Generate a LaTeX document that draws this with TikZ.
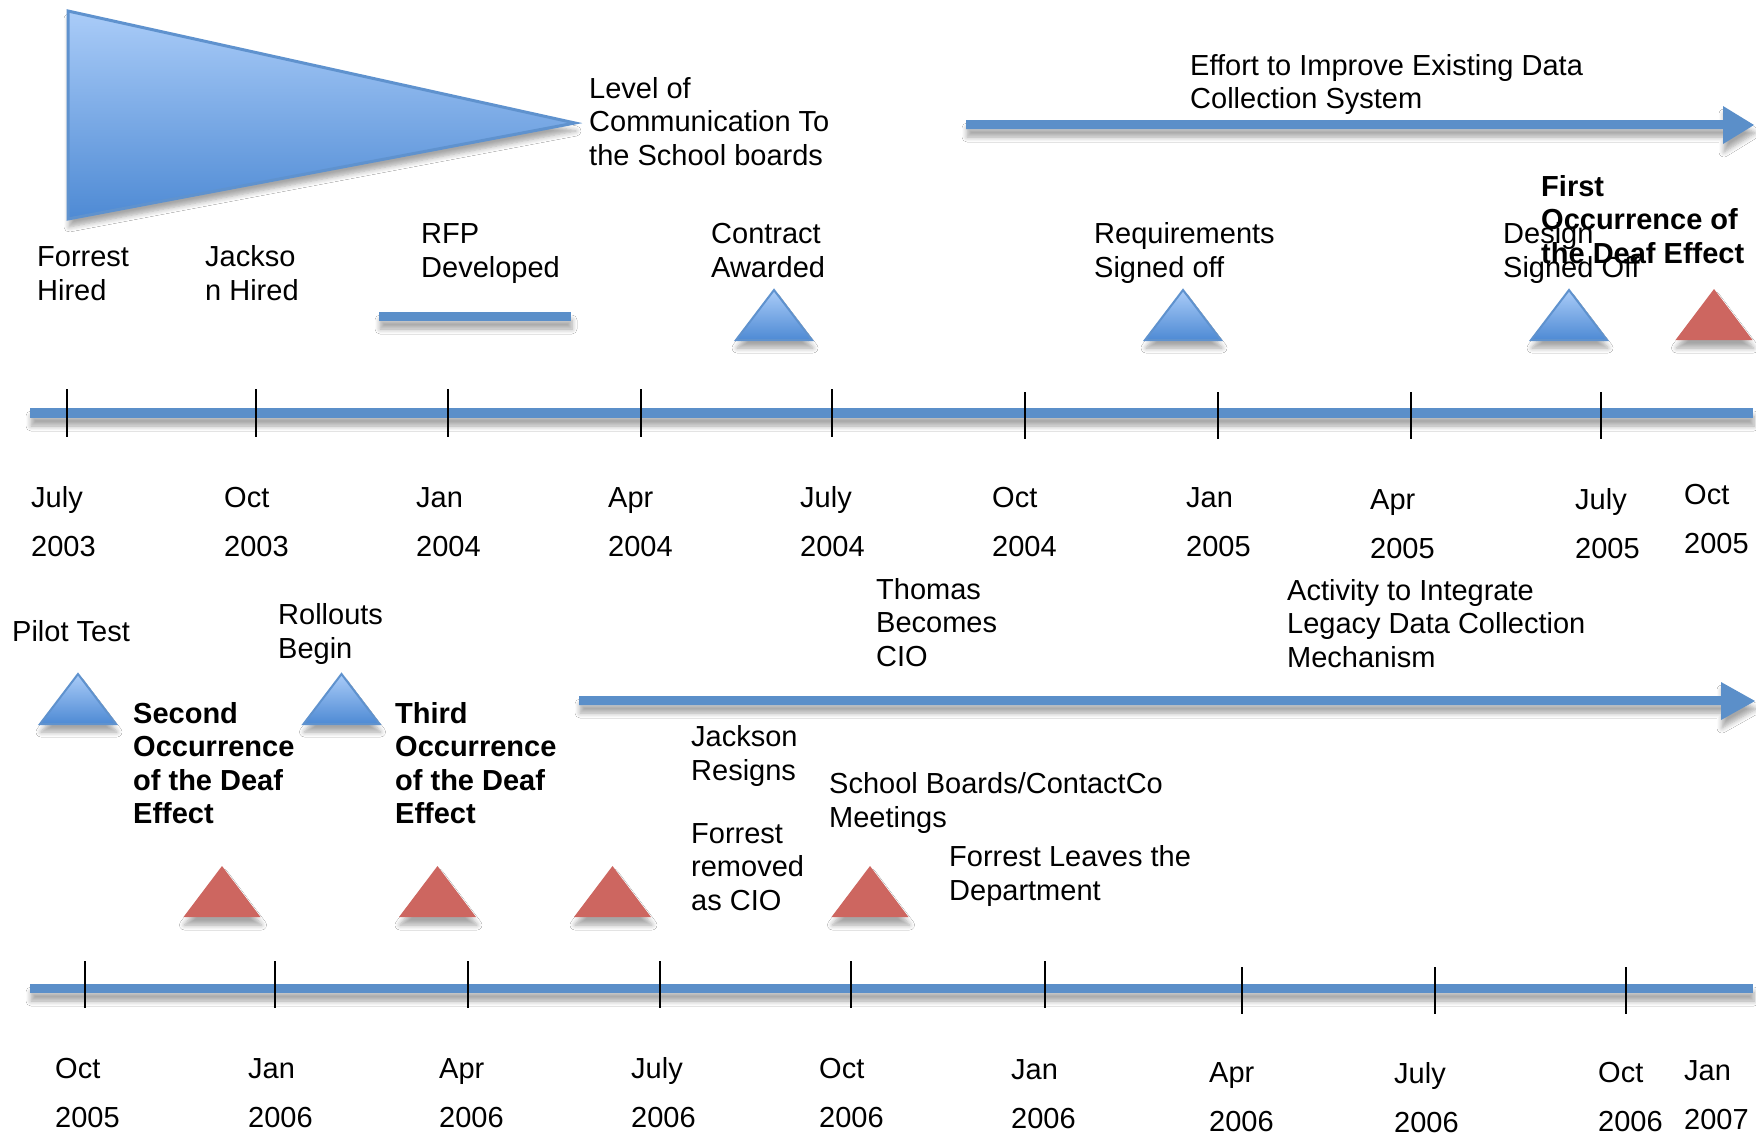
\documentclass[tikz,border=0pt]{standalone}
\usepackage{fontspec}
\setmainfont{Liberation Sans}
\usetikzlibrary{shadows.blur}

\definecolor{barblue}{RGB}{91,143,201}
\definecolor{trilight}{RGB}{170,204,248}
\definecolor{tridark}{RGB}{78,138,212}
\definecolor{triedge}{RGB}{95,146,206}
\definecolor{trired}{RGB}{205,102,96}

\begin{document}
\begin{tikzpicture}[x=1pt,y=-1pt,
  softshadow/.style={blur shadow={shadow xshift=1pt, shadow yshift=-8pt,
      shadow blur radius=5pt, shadow opacity=35, shadow blur steps=6}},
  bar/.style={fill=barblue, softshadow},
  tickmark/.style={line width=2.2pt, black},
  % multi-line labels are placed by the baseline of their last line
  lbl/.style={anchor=base west, inner sep=0pt, align=left, xshift=-2pt,
      font=\fontsize{29}{33.5}\selectfont},
  blbl/.style={lbl, font=\fontsize{29}{33.5}\selectfont\bfseries},
  bluetri/.pic={\path[softshadow, draw=triedge, line width=2pt,
      top color=trilight, bottom color=tridark]
      (-38,0) -- (0,-50) -- (38,0) -- cycle;},
  redtri/.pic={\path[softshadow, fill=trired]
      (-38.5,0) -- (0,-51) -- (38.5,0) -- cycle;}
]
\useasboundingbox (0,0) rectangle (1756,1136);
\fill[white] (0,0) rectangle (1756,1136);

% communication wedge
\path[softshadow, draw=triedge, line width=3pt, top color=trilight, bottom color=tridark]
  (68,11) -- (575,123) -- (68,219) -- cycle;

% bars and arrows
\path[bar] (30,408) rectangle (1753,418);
\path[bar] (30,984) rectangle (1753,993);
\path[bar] (379,312) rectangle (571,321);
\path[bar] (966,120) -- (1723,120) -- (1723,106) -- (1754,125) -- (1723,144)
  -- (1723,129) -- (966,129) -- cycle;
\path[bar] (579,696) -- (1721,696) -- (1721,682) -- (1755,701) -- (1721,720)
  -- (1721,705) -- (579,705) -- cycle;

% ticks on the upper axis
\foreach \x in {67,256,448,641,832}
  \draw[tickmark] (\x,389) -- (\x,437);
\foreach \x in {1025,1218,1411,1601}
  \draw[tickmark] (\x,392) -- (\x,439);
% ticks on the lower axis
\foreach \x in {85,275,468,660,851,1045}
  \draw[tickmark] (\x,961) -- (\x,1008);
\foreach \x in {1242,1435,1626}
  \draw[tickmark] (\x,967) -- (\x,1014);

% milestone markers
\pic at (774,340) {bluetri};
\pic at (1183,340) {bluetri};
\pic at (1569,340) {bluetri};
\pic at (1714,340) {redtri};
\pic at (78,724) {bluetri};
\pic at (341.5,724) {bluetri};
\pic at (222,917) {redtri};
\pic at (437.5,917) {redtri};
\pic at (612.5,917) {redtri};
\pic at (870,917) {redtri};

% upper axis dates
\foreach \x/\yb/\m/\yr [count=\i] in {33/507/July/2003, 226/507/Oct/2003,
    418/507/Jan/2004, 610/507/Apr/2004, 802/507/July/2004, 994/507/Oct/2004,
    1188/507/Jan/2005, 1372/509/Apr/2005, 1577/509/July/2005, 1686/504/Oct/2005}{
  \node[lbl] (um\i) at (\x,\yb) {\m};
  \node[lbl] (uy\i) at (\x,\yb+49) {\yr};
}
% lower axis dates
\foreach \x/\yb/\m/\yr [count=\i] in {57/1078/Oct/2005, 250/1078/Jan/2006,
    441/1078/Apr/2006, 633/1078/July/2006, 821/1078/Oct/2006, 1013/1079/Jan/2006,
    1211/1082/Apr/2006, 1396/1083/July/2006, 1600/1082/Oct/2006, 1686/1080/Jan/2007}{
  \node[lbl] (lm\i) at (\x,\yb) {\m};
  \node[lbl] (ly\i) at (\x,\yb+49) {\yr};
}

% upper labels
\node[lbl] (level) at (591,165) {Level of\\Communication To\\the School boards};
\node[lbl] (effort) at (1192,108.5) {Effort to Improve Existing Data\\Collection System};
\node[lbl] (forrest) at (39,300) {Forrest\\Hired};
\node[lbl] (jackson) at (207,300) {Jackso\\n Hired};
\node[lbl] (rfp) at (423,277) {RFP\\Developed};
\node[lbl] (contract) at (713,277) {Contract\\Awarded};
\node[lbl] (req) at (1096,277) {Requirements\\Signed off};
\node[lbl] (design) at (1505,277) {Design\\Signed Off};
\node[blbl] (first) at (1543,263) {First\\Occurrence of\\the Deaf Effect};

% lower labels
\node[lbl] (pilot) at (14,641) {Pilot Test};
\node[lbl] (rollouts) at (280,658) {Rollouts\\Begin};
\node[lbl] (thomas) at (878,666) {Thomas\\Becomes\\CIO};
\node[lbl] (integrate) at (1289,667) {Activity to Integrate\\Legacy Data Collection\\Mechanism};
\node[blbl] (second) at (135,823.5) {Second\\Occurrence\\of the Deaf\\Effect};
\node[blbl] (third) at (397,823.5) {Third\\Occurrence\\of the Deaf\\Effect};
\node[lbl] (resigns) at (693,780) {Jackson\\Resigns};
\node[lbl] (removed) at (693,910) {Forrest\\removed\\as CIO};
\node[lbl] (meetings) at (831,827) {School Boards/ContactCo\\Meetings};
\node[lbl] (leaves) at (951,900) {Forrest Leaves the\\Department};
\end{tikzpicture}
\end{document}
